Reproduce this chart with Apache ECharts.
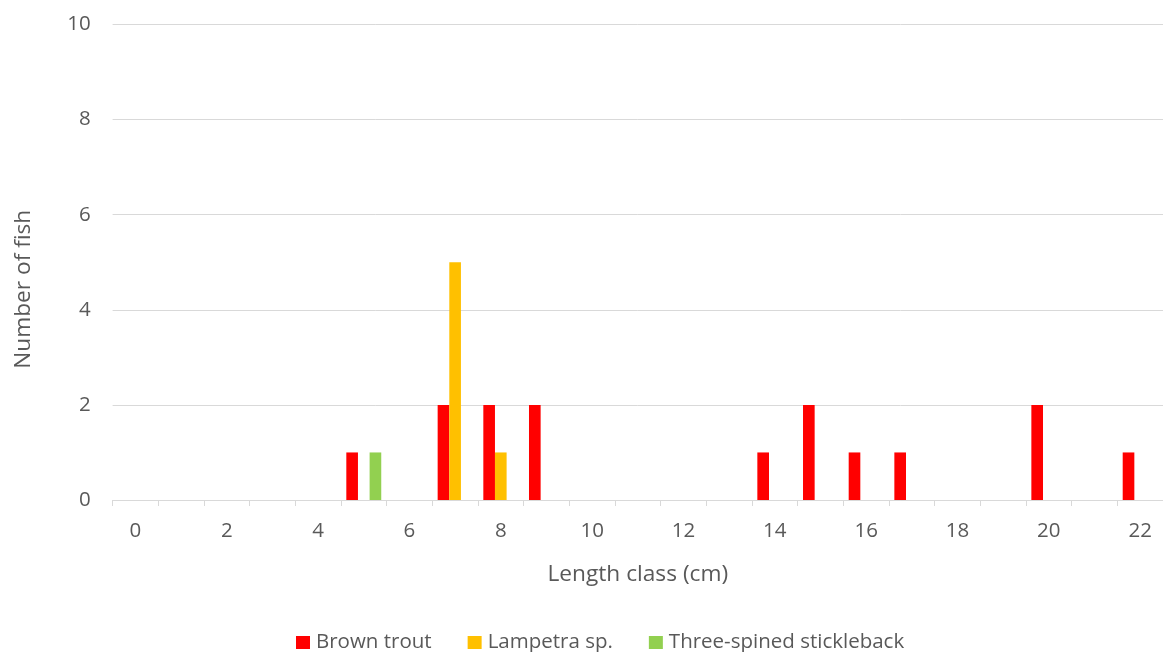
<!DOCTYPE html>
<html>
<head>
<meta charset="utf-8">
<style>
  html, body { margin: 0; padding: 0; background: #ffffff; }
  #chart { width: 1163px; height: 652px; }
</style>
<script src="https://cdn.jsdelivr.net/npm/echarts@6/dist/echarts.min.js"></script>
</head>
<body>
<div id="chart"></div>
<script>
// Length classes (cm)
const lengthClasses = ['0','1','2','3','4','5','6','7','8','9','10','11','12','13','14','15','16','17','18','19','20','21','22'];

// Number of fish per length class
const brownTrout   = [0,0,0,0,0,1,0,2,2,2,0,0,0,0,1,2,1,1,0,0,2,0,1];
const lampetra     = [0,0,0,0,0,0,0,5,1,0,0,0,0,0,0,0,0,0,0,0,0,0,0];
const stickleback  = [0,0,0,0,0,1,0,0,0,0,0,0,0,0,0,0,0,0,0,0,0,0,0];

const yTicks = { min: 0, max: 10, interval: 2 };

const textColor = '#595959';
const gridColor = '#d9d9d9';
const fontFamily = '"Open Sans", sans-serif';

const chart = echarts.init(document.getElementById('chart'), null, { renderer: 'canvas' });

chart.setOption({
  animation: false,
  backgroundColor: '#ffffff',
  textStyle: { fontFamily: fontFamily, color: textColor },
  grid: { left: 112.6, right: -3.5, top: 24.5, bottom: 152 },
  legend: {
    top: 627,
    left: 291,
    itemWidth: 14,
    itemHeight: 13,
    itemGap: 36,
    icon: 'rect',
    textStyle: { fontFamily: fontFamily, fontSize: 20.5, color: textColor, padding: [0, 0, 0, 1] },
    data: ['Brown trout', 'Lampetra sp.', 'Three-spined stickleback']
  },
  xAxis: {
    type: 'category',
    data: lengthClasses,
    name: 'Length class (cm)',
    nameLocation: 'middle',
    nameGap: 63,
    nameTextStyle: { fontFamily: fontFamily, fontSize: 22.7, color: textColor },
    axisLine: { lineStyle: { color: gridColor, width: 1 } },
    axisTick: { show: true, interval: 0, length: 6, lineStyle: { color: gridColor } },
    axisLabel: { interval: 1, margin: 21, fontFamily: fontFamily, fontSize: 20.5, color: textColor },
    splitLine: { show: false }
  },
  yAxis: {
    type: 'value',
    min: yTicks.min,
    max: yTicks.max,
    interval: yTicks.interval,
    name: 'Number of fish',
    nameLocation: 'middle',
    nameGap: 78,
    nameTextStyle: { fontFamily: fontFamily, fontSize: 22.7, color: textColor, padding: [0, 54, 0, 0] },
    axisLine: { show: false },
    axisTick: { show: false },
    axisLabel: { margin: 22, fontFamily: fontFamily, fontSize: 20.5, color: textColor },
    splitLine: { lineStyle: { color: gridColor, width: 1 } }
  },
  series: [
    {
      name: 'Brown trout', type: 'bar', data: brownTrout,
      itemStyle: { color: '#ff0000' },
      barGap: '0%', barCategoryGap: '23.5%'
    },
    {
      name: 'Lampetra sp.', type: 'bar', data: lampetra,
      itemStyle: { color: '#ffc000' },
      barGap: '0%', barCategoryGap: '23.5%'
    },
    {
      name: 'Three-spined stickleback', type: 'bar', data: stickleback,
      itemStyle: { color: '#92d050' },
      barGap: '0%', barCategoryGap: '23.5%'
    }
  ]
});
</script>
</body>
</html>
